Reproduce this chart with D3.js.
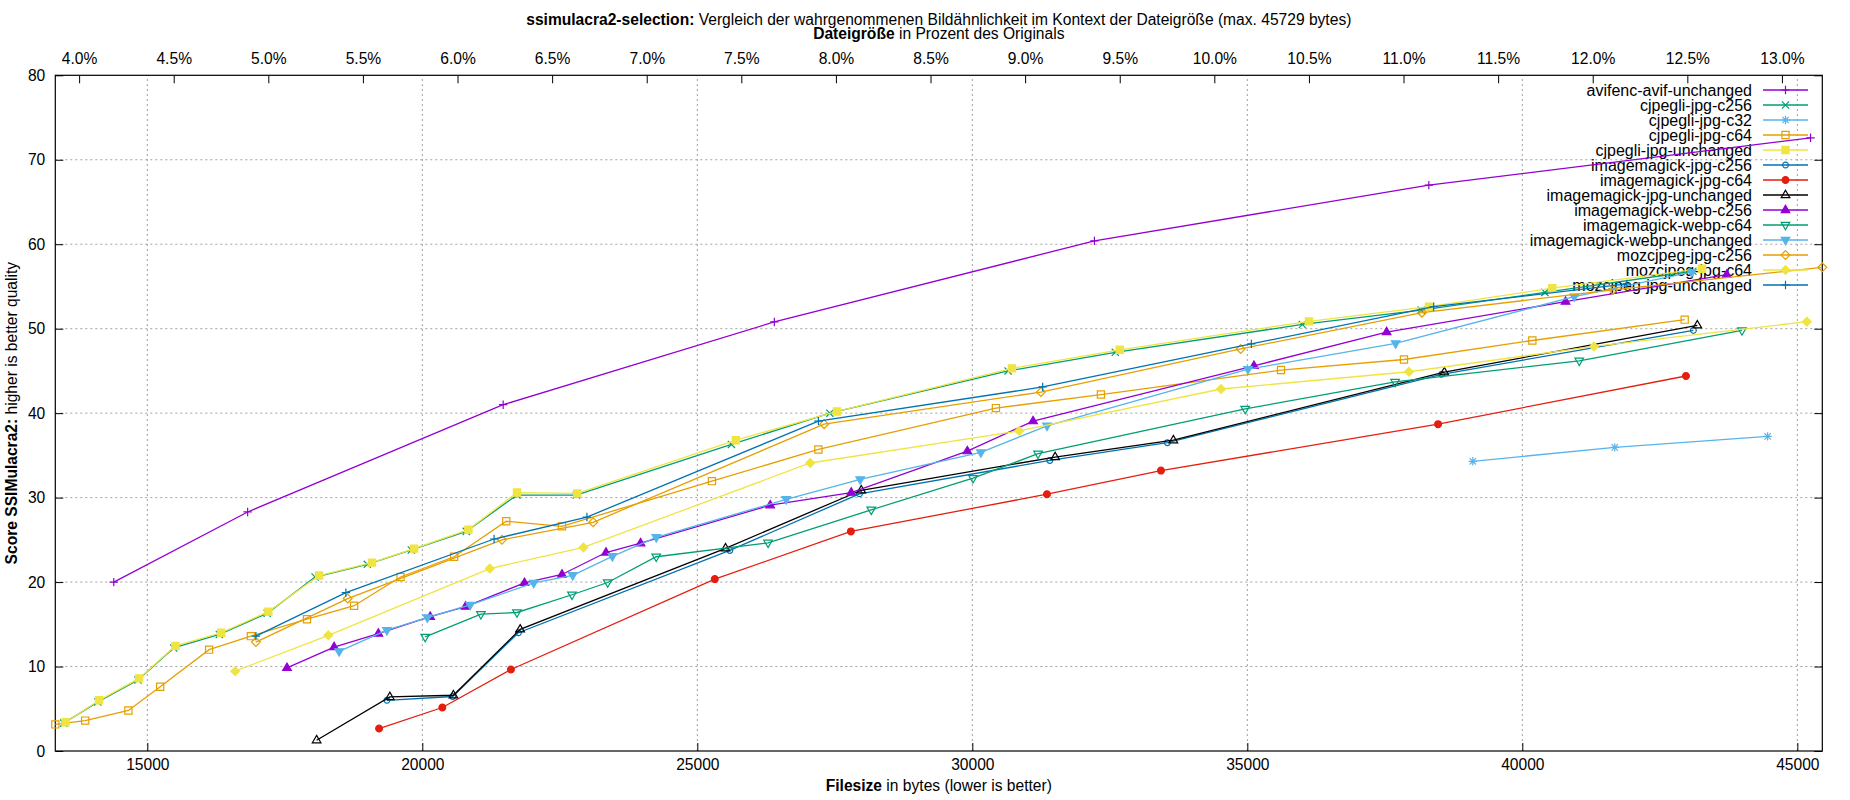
<!DOCTYPE html>
<html>
<head>
<meta charset="utf-8">
<script src="https://cdn.jsdelivr.net/npm/d3@7"></script>
<style>
    body { margin: 0; background: #ffffff; }
    text { font-family: "Liberation Sans", Arial, sans-serif; fill: #000; }
</style>
</head>
<body>
<div id="wrapper"></div>
<script>
// series names, in plot order
const seriesNames = [
    "avifenc-avif-unchanged",
    "cjpegli-jpg-c256",
    "cjpegli-jpg-c32",
    "cjpegli-jpg-c64",
    "cjpegli-jpg-unchanged",
    "imagemagick-jpg-c256",
    "imagemagick-jpg-c64",
    "imagemagick-jpg-unchanged",
    "imagemagick-webp-c256",
    "imagemagick-webp-c64",
    "imagemagick-webp-unchanged",
    "mozcjpeg-jpg-c256",
    "mozcjpeg-jpg-c64",
    "mozcjpeg-jpg-unchanged"
];

// [filesize in bytes, ssimulacra2 score]
const avifencAvifUnchanged = [[14390, 20.0], [16824, 28.3], [21470, 41.0], [26400, 50.8], [32220, 60.4], [38300, 67.0], [45240, 72.6]];
const cjpegliJpgC256 = [[13480, 3.3], [14100, 5.8], [14830, 8.4], [15480, 12.2], [16310, 13.8], [17180, 16.3], [18050, 20.6], [19000, 22.1], [19800, 23.8], [20800, 26.0], [21720, 30.3], [22800, 30.3], [25620, 36.3], [27410, 40.0], [30650, 45.0], [32600, 47.2], [36000, 50.5], [38160, 52.2], [40410, 54.3], [43100, 56.8]];
const cjpegliJpgC32 = [[39100, 34.3], [41680, 35.95], [44460, 37.25]];
const cjpegliJpgC64 = [[13327, 3.15], [13870, 3.6], [14656, 4.8], [15234, 7.6], [16123, 12.0], [16883, 13.6], [17903, 15.6], [18760, 17.2], [19604, 20.6], [20578, 23.0], [21526, 27.2], [22539, 26.6], [25266, 31.95], [27201, 35.7], [30429, 40.6], [32338, 42.2], [35612, 45.1], [37848, 46.35], [40182, 48.6], [42952, 51.07]];
const cjpegliJpgUnchanged = [[13513, 3.4], [14123, 6.0], [14851, 8.6], [15513, 12.45], [16344, 14.0], [17201, 16.5], [18123, 20.77], [19084, 22.3], [19851, 23.96], [20838, 26.2], [21721, 30.6], [22818, 30.5], [25701, 36.8], [27539, 40.2], [30720, 45.3], [32679, 47.5], [36121, 50.87], [38303, 52.6], [40545, 54.8], [43267, 57.1]];
const imagemagickJpgC256 = [[19357, 6.0], [20552, 6.45], [21747, 14.0], [25591, 23.75], [27948, 30.45], [31409, 34.4], [33546, 36.5], [38533, 44.6], [43110, 49.8]];
const imagemagickJpgC64 = [[19214, 2.66], [20364, 5.15], [21611, 9.65], [25318, 20.35], [27792, 26.0], [31357, 30.4], [33430, 33.2], [38468, 38.7], [42975, 44.4]];
const imagemagickJpgUnchanged = [[18078, 1.28], [19409, 6.4], [20565, 6.6], [21779, 14.4], [25513, 24.0], [27981, 30.87], [31506, 34.8], [33655, 36.8], [38582, 44.85], [43182, 50.4]];
const imagemagickWebpC256 = [[17539, 9.84], [18396, 12.3], [19201, 13.9], [20143, 15.9], [20786, 17.1], [21857, 19.9], [22539, 20.9], [23340, 23.5], [23968, 24.6], [26325, 29.1], [27799, 30.6], [29909, 35.5], [31104, 39.05], [35121, 45.6], [37533, 49.6], [40786, 53.2], [43716, 56.4]];
const imagemagickWebpC64 = [[20052, 13.5], [21065, 16.2], [21721, 16.4], [22721, 18.5], [23370, 19.95], [24253, 23.0], [26286, 24.65], [28162, 28.56], [30013, 32.3], [31195, 35.2], [34962, 40.5], [37687, 43.7], [41035, 46.2], [43993, 49.8]];
const imagemagickWebpUnchanged = [[18487, 11.8], [19357, 14.3], [20091, 15.8], [20870, 17.3], [22026, 19.9], [22734, 20.8], [23455, 23.05], [24253, 25.3], [26617, 29.8], [27961, 32.15], [30156, 35.35], [31357, 38.5], [35012, 45.2], [37697, 48.25], [40944, 53.8], [43080, 56.7]];
const mozcjpegJpgC256 = [[16974, 12.9], [18643, 18.05], [21448, 25.0], [23107, 27.08], [27305, 38.7], [31247, 42.5], [34879, 47.6], [38175, 51.9], [41650, 54.6], [45454, 57.26]];
const mozcjpegJpgC64 = [[16597, 9.45], [18292, 13.7], [21227, 21.6], [22929, 24.1], [27052, 34.1], [30851, 37.9], [34521, 42.86], [37939, 44.9], [41301, 47.9], [45173, 50.83]];
const mozcjpegJpgUnchanged = [[16974, 13.6], [18610, 18.75], [21305, 25.1], [22993, 27.7], [27201, 39.05], [31279, 43.1], [35073, 48.2], [38388, 52.6], [41900, 55.3]];

const xTicks = [15000, 20000, 25000, 30000, 35000, 40000, 45000];
const yTicks = [0, 10, 20, 30, 40, 50, 60, 70, 80];
const percentTicks = [4.0, 4.5, 5.0, 5.5, 6.0, 6.5, 7.0, 7.5, 8.0, 8.5, 9.0, 9.5, 10.0, 10.5, 11.0, 11.5, 12.0, 12.5, 13.0];
const originalBytes = 344000;

const seriesData = [
    avifencAvifUnchanged, cjpegliJpgC256, cjpegliJpgC32, cjpegliJpgC64, cjpegliJpgUnchanged,
    imagemagickJpgC256, imagemagickJpgC64, imagemagickJpgUnchanged,
    imagemagickWebpC256, imagemagickWebpC64, imagemagickWebpUnchanged,
    mozcjpegJpgC256, mozcjpegJpgC64, mozcjpegJpgUnchanged
];

// gnuplot default line types
const colors = ["#9400d3", "#009e73", "#56b4e9", "#e69f00", "#f0e442", "#0072b2", "#e51e10",
                "#000000", "#9400d3", "#009e73", "#56b4e9", "#e69f00", "#f0e442", "#0072b2"];
const markers = ["plus", "times", "star", "square", "squareF", "circle", "circleF",
                 "tri", "triF", "triDown", "triDownF", "diamond", "diamondF", "plus"];

function markerPath(kind) {
    const p = d3.path();
    const s = 4.2;
    if (kind == "plus" || kind == "star") {
        p.moveTo(-s, 0); p.lineTo(s, 0);
        p.moveTo(0, -s); p.lineTo(0, s);
    }
    if (kind == "times" || kind == "star") {
        const t = kind == "star" ? 3.2 : 3.6;
        p.moveTo(-t, -t); p.lineTo(t, t);
        p.moveTo(-t, t); p.lineTo(t, -t);
    }
    if (kind.startsWith("square")) {
        p.rect(-3.6, -3.6, 7.2, 7.2);
    }
    if (kind.startsWith("circle")) {
        const r = kind == "circleF" ? 3.4 : 2.9;
        p.moveTo(r, 0);
        p.arc(0, 0, r, 0, 2 * Math.PI);
    }
    if (kind == "tri" || kind == "triF") {
        p.moveTo(0, -4.8); p.lineTo(4.3, 2.6); p.lineTo(-4.3, 2.6); p.closePath();
    }
    if (kind.startsWith("triDown")) {
        p.moveTo(0, 4.8); p.lineTo(4.3, -2.6); p.lineTo(-4.3, -2.6); p.closePath();
    }
    if (kind.startsWith("diamond")) {
        p.moveTo(0, -4.4); p.lineTo(4.4, 0); p.lineTo(0, 4.4); p.lineTo(-4.4, 0); p.closePath();
    }
    return p.toString();
}

function buildPlot() {
    var dimension = {
        width: 1850,
        height: 800,
        margin: {
            left: 55.3,
            right: 27.7,
            top: 75.3,
            bottom: 49
        }
    };
    const fontSize = "15.6px";
    const plotLeft = dimension.margin.left;
    const plotRight = dimension.width - dimension.margin.right;
    const plotTop = dimension.margin.top;
    const plotBottom = dimension.height - dimension.margin.bottom;
    const plotCenter = (plotLeft + plotRight) / 2;

    const svg = d3.select("#wrapper").append("svg")
        .attr("width", dimension.width)
        .attr("height", dimension.height)
        .attr("viewBox", [0, 0, dimension.width, dimension.height]);

    const allPoints = seriesData.flat();
    const x_scaler = d3.scaleLinear()
        .domain(d3.extent(allPoints, d => d[0]))
        .range([plotLeft, plotRight]);
    const y_scaler = d3.scaleLinear()
        .domain([0, 80])
        .range([plotBottom, plotTop]);
    const x2_scaler = d3.scaleLinear()
        .domain(x_scaler.domain().map(b => b / originalBytes * 100))
        .range([plotLeft, plotRight]);

    // grid
    const grid = svg.append("g")
        .attr("stroke", "#a0a0a0")
        .attr("stroke-width", 1)
        .attr("stroke-dasharray", "2,3");
    grid.selectAll(".gx").data(xTicks).join("line")
        .attr("x1", d => x_scaler(d)).attr("x2", d => x_scaler(d))
        .attr("y1", plotBottom).attr("y2", plotTop);
    grid.selectAll(".gy").data(yTicks.filter(d => d > 0 && d < 80)).join("line")
        .attr("x1", plotLeft).attr("x2", plotRight)
        .attr("y1", d => y_scaler(d)).attr("y2", d => y_scaler(d));

    // axes
    const x_axis = d3.axisBottom(x_scaler).tickValues(xTicks).tickSize(-8).tickPadding(8).tickFormat(d3.format("d"));
    const y_axis = d3.axisLeft(y_scaler).tickValues(yTicks).tickSize(-8).tickPadding(10);
    const y_axis_right = d3.axisRight(y_scaler).tickValues(yTicks).tickSize(-8).tickFormat("");
    const x2_axis = d3.axisTop(x2_scaler).tickValues(percentTicks).tickSize(-8).tickPadding(11)
        .tickFormat(d => d3.format(".1f")(d) + "%");

    const axisStyle = g => {
        g.select(".domain").remove();
        g.selectAll("text").style("font-size", fontSize).attr("fill", "#000");
        g.selectAll("line").attr("stroke", "#000");
    };
    svg.append("g").attr("transform", `translate(0,${plotBottom})`).call(x_axis).call(axisStyle);
    svg.append("g").attr("transform", `translate(${plotLeft},0)`).call(y_axis).call(axisStyle);
    svg.append("g").attr("transform", `translate(${plotRight},0)`).call(y_axis_right).call(axisStyle);
    svg.append("g").attr("transform", `translate(0,${plotTop})`).call(x2_axis).call(axisStyle);

    svg.append("rect")
        .attr("x", plotLeft).attr("y", plotTop)
        .attr("width", plotRight - plotLeft).attr("height", plotBottom - plotTop)
        .attr("fill", "none").attr("stroke", "#000").attr("stroke-width", 1.2);

    // titles
    const title = svg.append("text")
        .attr("x", plotCenter).attr("y", 25)
        .attr("text-anchor", "middle")
        .style("font-size", fontSize);
    title.append("tspan").attr("font-weight", "bold").text("ssimulacra2-selection:");
    title.append("tspan").text(" Vergleich der wahrgenommenen Bildähnlichkeit im Kontext der Dateigröße (max. 45729 bytes)");

    const x2_label = svg.append("text")
        .attr("x", plotCenter).attr("y", 39)
        .attr("text-anchor", "middle")
        .style("font-size", fontSize);
    x2_label.append("tspan").attr("font-weight", "bold").text("Dateigröße");
    x2_label.append("tspan").text(" in Prozent des Originals");

    const x_label = svg.append("text")
        .attr("x", plotCenter).attr("y", 791)
        .attr("text-anchor", "middle")
        .style("font-size", fontSize);
    x_label.append("tspan").attr("font-weight", "bold").text("Filesize");
    x_label.append("tspan").text(" in bytes (lower is better)");

    const y_label = svg.append("text")
        .attr("transform", `translate(17, ${(plotTop + plotBottom) / 2}) rotate(-90)`)
        .attr("text-anchor", "middle")
        .style("font-size", fontSize);
    y_label.append("tspan").attr("font-weight", "bold").text("Score SSIMulacra2:");
    y_label.append("tspan").text(" higher is better quality");

    // legend text first, lines are drawn over it
    const legend = svg.append("g");
    const legendY = i => 90 + i * 15;
    legend.selectAll("text").data(seriesNames).join("text")
        .attr("x", 1752)
        .attr("y", (d, i) => legendY(i))
        .attr("dy", "0.35em")
        .attr("text-anchor", "end")
        .style("font-size", "16px")
        .text(d => d);

    const line = d3.line()
        .x(d => x_scaler(d[0]))
        .y(d => y_scaler(d[1]));

    seriesData.forEach((data, i) => {
        const color = colors[i];
        const kind = markers[i];
        const filled = kind.endsWith("F");
        const g = svg.append("g");

        // legend sample
        g.append("line")
            .attr("x1", 1763).attr("x2", 1808)
            .attr("y1", legendY(i)).attr("y2", legendY(i))
            .attr("stroke", color).attr("stroke-width", 1.3);
        g.append("path")
            .attr("d", markerPath(kind))
            .attr("transform", `translate(1785.5,${legendY(i)})`)
            .attr("fill", filled ? color : "none")
            .attr("stroke", color).attr("stroke-width", 1.2);

        g.append("path")
            .attr("fill", "none")
            .attr("stroke", color)
            .attr("stroke-width", 1.3)
            .attr("d", line(data));

        g.selectAll(".pt").data(data).join("path")
            .attr("d", markerPath(kind))
            .attr("transform", d => `translate(${x_scaler(d[0])},${y_scaler(d[1])})`)
            .attr("fill", filled ? color : "none")
            .attr("stroke", color)
            .attr("stroke-width", 1.2);
    });
}
buildPlot();
</script>
</body>
</html>
